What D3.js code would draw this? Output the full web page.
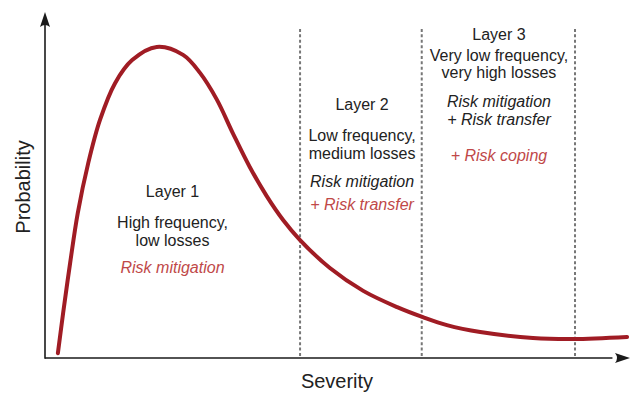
<!DOCTYPE html>
<html><head><meta charset="utf-8">
<script src="https://cdn.jsdelivr.net/npm/d3@7/dist/d3.min.js"></script>
<style>html,body{margin:0;padding:0;background:#fff;}svg{display:block;font-family:"Liberation Sans",Arial,Helvetica,sans-serif;}</style>
</head><body><svg id="c" width="631" height="393"></svg>
<script>
// Curve data (severity, probability) in arbitrary 0-100 units
const severity = [2.2,3.1,4.3,5.6,7.4,9.4,12.0,14.9,19.1,23.6,26.5,29.4,32.1,35.0,37.9,40.7,43.6,48.7,54.4,60.2,64.6,68.7,74.4,83.4,90.3,99.5];
const probability = [1.4,13.0,27.5,41.9,56.4,68.8,79.5,86.1,89.9,87.6,82.4,74.6,65.0,55.2,46.8,39.9,34.1,26.0,19.4,14.7,11.8,9.5,7.5,5.8,5.5,6.1];
// Layer boundaries (severity)
const boundaries = [43.6, 64.4, 90.6];
const boundaryTop = 95.1;
// Annotation texts: [text, kind, baseline]
const layerCenters = [21.8, 54.2, 77.6];
const layer1Lines = [["Layer 1","n",197],["High frequency,","n",228],["low losses","n",246],["Risk mitigation","r",273]];
const layer2Lines = [["Layer 2","n",110],["Low frequency,","n",141],["medium losses","n",159],["Risk mitigation","i",187],["+ Risk transfer","r",210]];
const layer3Lines = [["Layer 3","n",40],["Very low frequency,","n",61],["very high losses","n",78],["Risk mitigation","i",107],["+ Risk transfer","i",125],["+ Risk coping","r",161]];
const xLabel = "Severity", yLabel = "Probability";

const svg = d3.select("#c");
const x = d3.scaleLinear().domain([0,100]).range([45,630]);
const y = d3.scaleLinear().domain([0,100]).range([358,12]);

// dashed boundaries
svg.selectAll("line.b").data(boundaries).enter().append("line")
  .attr("x1", d=>x(d)).attr("x2", d=>x(d))
  .attr("y1", y(boundaryTop)).attr("y2", y(0))
  .attr("stroke","#777").attr("stroke-width",2).attr("stroke-dasharray","3,2.4");

// axes
const ax = "#1a1a1a";
svg.append("line").attr("x1",x(0)).attr("x2",x(0)).attr("y1",y(0)+0.75).attr("y2",y(97)).attr("stroke",ax).attr("stroke-width",1.6);
svg.append("line").attr("x1",x(0)).attr("x2",x(97)).attr("y1",y(0)).attr("y2",y(0)).attr("stroke",ax).attr("stroke-width",1.6);
// arrowheads
const tx = x(0), ty = y(100);
svg.append("path").attr("d",`M${tx},${ty} L${tx+5},${ty+15} Q${tx},${ty+11} ${tx-5},${ty+15} Z`).attr("fill",ax);
const rx = x(100), ry = y(0);
svg.append("path").attr("d",`M${rx},${ry} L${rx-15},${ry-5} Q${rx-11},${ry} ${rx-15},${ry+5} Z`).attr("fill",ax);

// curve
const pts = severity.map((s,i)=>[s, probability[i]]);
const line = d3.line().x(d=>x(d[0])).y(d=>y(d[1])).curve(d3.curveCatmullRom.alpha(0.5));
svg.append("path").attr("d", line(pts)).attr("fill","none").attr("stroke","#a01c24").attr("stroke-width",4).attr("stroke-linecap","round");

// annotations
function drawLayer(lines, cx){
  svg.selectAll(null).data(lines).enter().append("text")
    .attr("x", x(cx)).attr("y", d=>d[2])
    .attr("text-anchor","middle").attr("font-size",16)
    .attr("font-style", d=>d[1]==="n"?"normal":"italic")
    .attr("fill", d=>d[1]==="r"?"#c04848":"#222")
    .text(d=>d[0]);
}
drawLayer(layer1Lines, layerCenters[0]);
drawLayer(layer2Lines, layerCenters[1]);
drawLayer(layer3Lines, layerCenters[2]);

svg.append("text").attr("x",337).attr("y",388).attr("text-anchor","middle").attr("font-size",20).attr("fill","#222").text(xLabel);
svg.append("text").attr("transform","translate(30,187) rotate(-90)").attr("text-anchor","middle").attr("font-size",20).attr("fill","#222").text(yLabel);
</script></body></html>
